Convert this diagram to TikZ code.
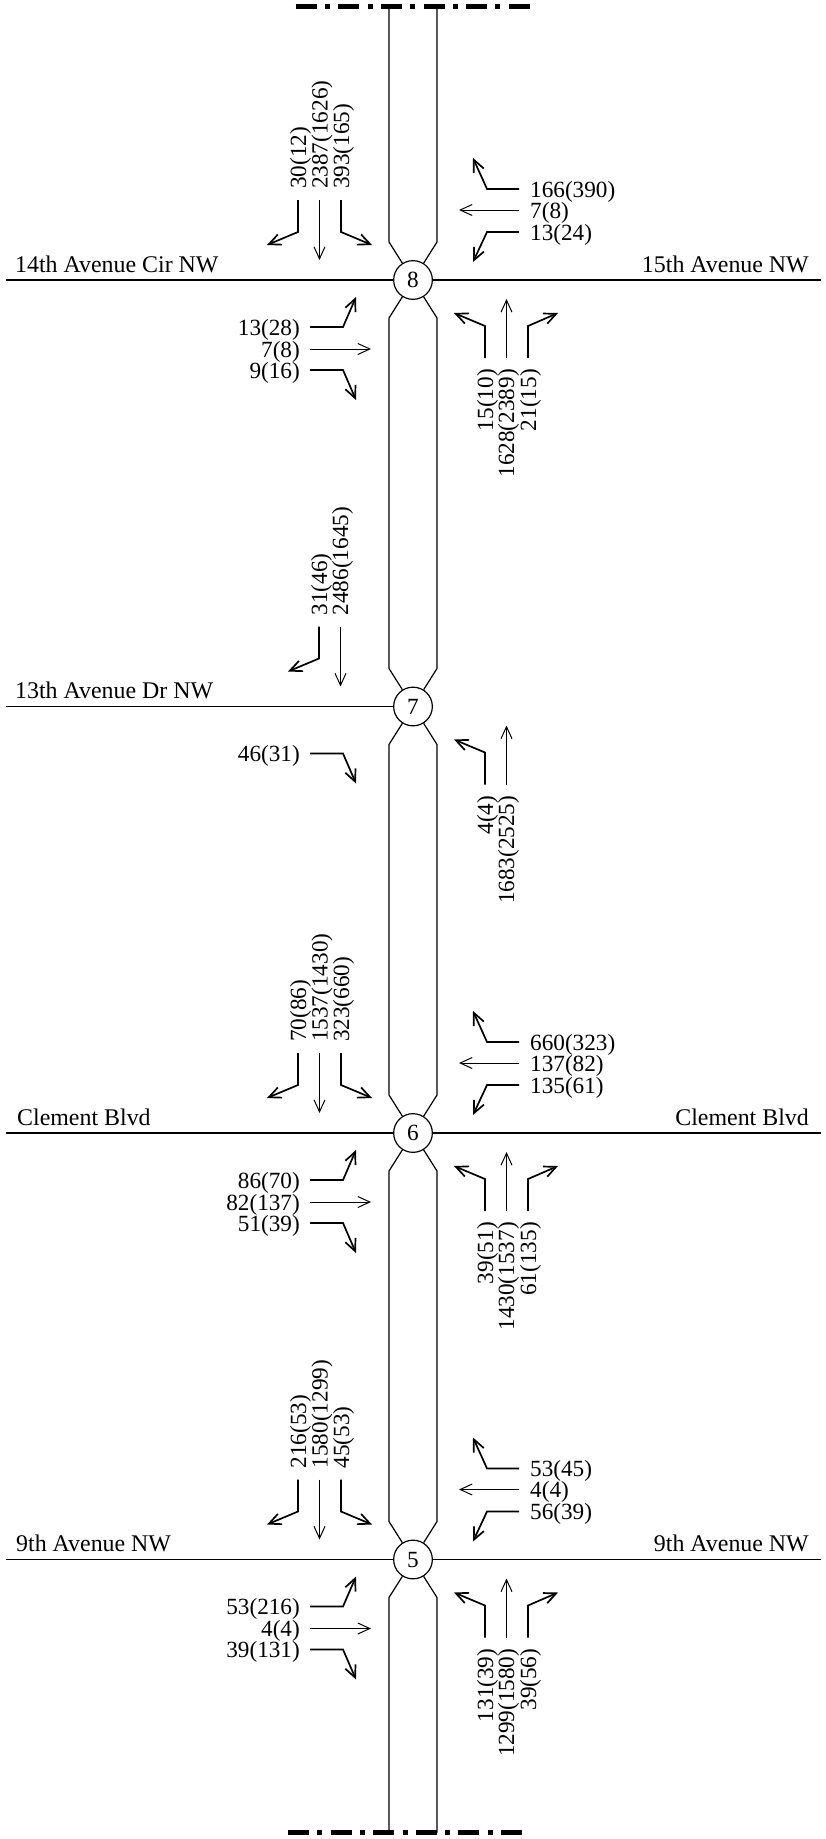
\documentclass[tikz,border=0pt]{standalone}
\usepackage{fontspec}
\setmainfont{Liberation Serif}
\usetikzlibrary{arrows.meta}
\tikzset{
  x=1pt,y=-1pt,
  road/.style={line width=1.2pt,line join=miter},
  thruarrow/.style={line width=1pt,-{Straight Barb[length=12pt,width=11pt,line width=1pt]}},
  turnarrow/.style={line width=1.7pt,line join=miter,-{Straight Barb[length=12pt,width=11pt,line width=1.7pt]}},
  inter/.style={circle,draw,line width=1.2pt,fill=white,minimum size=38.7pt,inner sep=0pt,font=\fontsize{23.2pt}{24pt}\selectfont},
  vol/.style={inner sep=0pt,font=\fontsize{23.2pt}{24pt}\selectfont},
  street/.style={inner sep=0pt,font=\fontsize{23.9pt}{24pt}\selectfont},
  bar/.style={line width=5.5pt,dash pattern=on 21pt off 8.3pt on 5pt off 8.3pt}
}
% #1 name  #2-#7 three points
\newcommand{\turnpath}[7]{%
  \coordinate (#1a) at (#2,\cy+#3);
  \coordinate (#1b) at (#4,\cy+#5);
  \coordinate (#1c) at (#6,\cy+#7);
  \draw[turnarrow] (#1a) -- (#1b) -- (#1c);
}
\newcommand{\thrupath}[5]{%
  \coordinate (#1a) at (#2,\cy+#3);
  \coordinate (#1b) at (#4,\cy+#5);
  \draw[thruarrow] (#1a) -- (#1b);
}
\newcommand{\SBvol}[3]{\node[vol,rotate=90,anchor=base west] (#1) at (#2+8,\cy-91) {#3};}
\newcommand{\NBvol}[3]{\node[vol,rotate=90,anchor=base east] (#1) at (#2+8,\cy+89) {#3};}
\newcommand{\WBvol}[3]{\node[vol,anchor=base west] (#1) at (530,\cy+#2+8) {#3};}
\newcommand{\EBvol}[3]{\node[vol,anchor=base east] (#1) at (300,\cy+#2+8) {#3};}
\newcommand{\southleg}[3]{% names by \ix
  \turnpath{sl\ix}{298}{-80}{298}{-48}{267}{-35}
  \thrupath{st\ix}{319.5}{-80}{319.5}{-20}
  \turnpath{sr\ix}{341}{-80}{341}{-48}{372}{-35}
  \SBvol{vsl\ix}{298}{#1}
  \SBvol{vst\ix}{319.5}{#2}
  \SBvol{vsr\ix}{341}{#3}
}
\newcommand{\westleg}[3]{%
  \turnpath{wr\ix}{519}{-91}{487}{-91}{473}{-122}
  \thrupath{wt\ix}{519}{-70}{459}{-70}
  \turnpath{wl\ix}{519}{-48}{487}{-48}{473}{-18}
  \WBvol{vwr\ix}{-91}{#1}
  \WBvol{vwt\ix}{-70}{#2}
  \WBvol{vwl\ix}{-48}{#3}
}
\newcommand{\eastleg}[3]{%
  \turnpath{el\ix}{310}{47}{343}{47}{356}{17}
  \thrupath{et\ix}{310}{69}{371}{69}
  \turnpath{er\ix}{310}{90}{343}{90}{356}{120}
  \EBvol{vel\ix}{47}{#1}
  \EBvol{vet\ix}{69}{#2}
  \EBvol{ver\ix}{90}{#3}
}
\newcommand{\northleg}[3]{%
  \turnpath{nl\ix}{485}{78}{485}{46}{454}{33}
  \thrupath{nt\ix}{506.5}{78}{506.5}{19}
  \turnpath{nr\ix}{528}{78}{528}{46}{558}{33}
  \NBvol{vnl\ix}{485}{#1}
  \NBvol{vnt\ix}{506}{#2}
  \NBvol{vnr\ix}{528}{#3}
}
\begin{document}
\begin{tikzpicture}
\useasboundingbox (0,0) rectangle (825,1839);
% bars
\coordinate (topL) at (295.7,6.7); \coordinate (topR) at (530,6.7);
\coordinate (botL) at (288,1832.7); \coordinate (botR) at (522,1832.7);
\draw[bar] (topL) -- (topR);
\draw[bar] (botL) -- (botR);
% intersections
\node[inter] (n8) at (413,280) {8};
\node[inter] (n7) at (413,706.5) {7};
\node[inter] (n6) at (413,1133) {6};
\node[inter] (n5) at (413,1559.5) {5};
% road edges
\foreach \side/\xx in {l/389,r/437}{
  \coordinate (t\side) at (\xx,6.7);
  \coordinate (b\side) at (\xx,1832.7);
  \coordinate (a8\side) at (\xx,242);
  \coordinate (b8\side) at (\xx,318);
  \coordinate (a7\side) at (\xx,668.5);
  \coordinate (b7\side) at (\xx,744.5);
  \coordinate (a6\side) at (\xx,1095);
  \coordinate (b6\side) at (\xx,1171);
  \coordinate (a5\side) at (\xx,1521.5);
  \coordinate (b5\side) at (\xx,1597.5);
  \draw[road] (t\side) -- (a8\side) -- (n8);
  \draw[road] (n8) -- (b8\side) -- (a7\side) -- (n7);
  \draw[road] (n7) -- (b7\side) -- (a6\side) -- (n6);
  \draw[road] (n6) -- (b6\side) -- (a5\side) -- (n5);
  \draw[road] (n5) -- (b5\side) -- (b\side);
}
% cross streets
\coordinate (w8) at (6,280); \coordinate (e8) at (821,280);
\coordinate (w7) at (6,706.5);
\coordinate (w6) at (6,1133); \coordinate (e6) at (821,1133);
\coordinate (w5) at (6,1559.5); \coordinate (e5) at (821,1559.5);
\draw[road] (w8) -- (n8); \draw[road] (n8) -- (e8);
\draw[road] (w7) -- (n7);
\draw[road] (w6) -- (n6); \draw[road] (n6) -- (e6);
\draw[road] (w5) -- (n5); \draw[road] (n5) -- (e5);
% street names
\node[street,anchor=base west] (s8w) at (15,272) {14th Avenue Cir NW};
\node[street,anchor=base east] (s8e) at (809,272) {15th Avenue NW};
\node[street,anchor=base west] (s7w) at (15,698.5) {13th Avenue Dr NW};
\node[street,anchor=base west] (s6w) at (17,1125) {Clement Blvd};
\node[street,anchor=base east] (s6e) at (809,1125) {Clement Blvd};
\node[street,anchor=base west] (s5w) at (16,1551.5) {9th Avenue NW};
\node[street,anchor=base east] (s5e) at (809,1551.5) {9th Avenue NW};
% intersection 8
\def\cy{280}\def\ix{8}
\southleg{30(12)}{2387(1626)}{393(165)}
\westleg{166(390)}{7(8)}{13(24)}
\eastleg{13(28)}{7(8)}{9(16)}
\northleg{15(10)}{1628(2389)}{21(15)}
% intersection 7
\def\cy{706.5}\def\ix{7}
\turnpath{sl7}{319}{-80}{319}{-48}{288}{-35}
\thrupath{st7}{340.5}{-80}{340.5}{-20}
\SBvol{vsl7}{319}{31(46)}
\SBvol{vst7}{340}{2486(1645)}
\turnpath{er7}{310}{47}{343}{47}{356}{77}
\EBvol{ver7}{47}{46(31)}
\turnpath{nl7}{485}{78}{485}{46}{454}{33}
\thrupath{nt7}{506.5}{78}{506.5}{19}
\NBvol{vnl7}{485}{4(4)}
\NBvol{vnt7}{506}{1683(2525)}
% intersection 6
\def\cy{1133}\def\ix{6}
\southleg{70(86)}{1537(1430)}{323(660)}
\westleg{660(323)}{137(82)}{135(61)}
\eastleg{86(70)}{82(137)}{51(39)}
\northleg{39(51)}{1430(1537)}{61(135)}
% intersection 5
\def\cy{1559.5}\def\ix{5}
\southleg{216(53)}{1580(1299)}{45(53)}
\westleg{53(45)}{4(4)}{56(39)}
\eastleg{53(216)}{4(4)}{39(131)}
\northleg{131(39)}{1299(1580)}{39(56)}
\end{tikzpicture}
\end{document}
